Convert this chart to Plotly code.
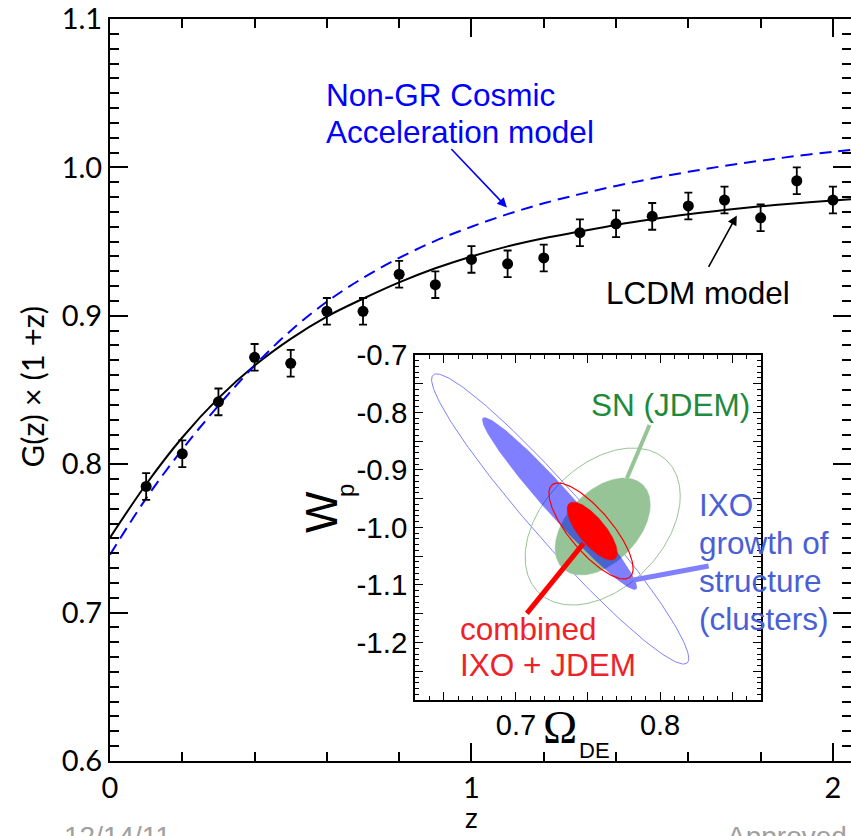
import numpy as np
import plotly.graph_objects as go

# ---------------- main panel data ----------------
z_obs = [0.1, 0.2, 0.3, 0.4, 0.5, 0.6, 0.7, 0.8, 0.9, 1.0,
         1.1, 1.2, 1.3, 1.4, 1.5, 1.6, 1.7, 1.8, 1.9, 2.0]
g_obs = [0.785, 0.807, 0.842, 0.872, 0.868, 0.903, 0.903, 0.928, 0.921, 0.938,
         0.935, 0.939, 0.956, 0.962, 0.967, 0.974, 0.978, 0.966, 0.991, 0.978]
g_err = [0.009, 0.009, 0.009, 0.009, 0.009, 0.009, 0.009, 0.009, 0.009, 0.009,
         0.009, 0.009, 0.009, 0.009, 0.009, 0.009, 0.009, 0.009, 0.009, 0.009]

z_model = [0.0, 0.1, 0.2, 0.3, 0.4, 0.5, 0.6, 0.7, 0.8, 0.9, 1.0,
           1.1, 1.2, 1.3, 1.4, 1.5, 1.6, 1.7, 1.8, 1.9, 2.0, 2.05]
lcdm = [0.7505, 0.7865, 0.818, 0.8445, 0.8665, 0.8845, 0.8995, 0.9115, 0.9225, 0.932, 0.940,
        0.9468, 0.9523, 0.9568, 0.9612, 0.965, 0.9684, 0.9713, 0.9738, 0.9759, 0.9777, 0.9785]
nongr = [0.739, 0.777, 0.810, 0.8395, 0.8665, 0.890, 0.9095, 0.9255, 0.939, 0.9505, 0.960,
         0.9685, 0.9758, 0.982, 0.9875, 0.9925, 0.997, 1.001, 1.0045, 1.0077, 1.0105, 1.0118]

x_ticks = [0, 1, 2]
y_ticks = [0.6, 0.7, 0.8, 0.9, 1.0, 1.1]

# ---------------- inset data (Omega_DE, w_p) ----------------
ell_name = ["IXO 2sig", "SN 2sig", "SN 1sig", "IXO 1sig", "comb 1sig", "comb 2sig"]
ell_cx = [0.7307, 0.7602, 0.7602, 0.7303, 0.7529, 0.7521]
ell_cy = [-0.9852, -0.9983, -0.9983, -0.9583, -1.0061, -1.0061]
ell_sx = [0.0892, 0.0538, 0.0330, 0.0537, 0.0174, 0.0292]
ell_sy = [0.2523, 0.1365, 0.0843, 0.1499, 0.0504, 0.0835]
ell_rho = [-0.961, 0.39, 0.45, -0.970, -0.75, -0.78]
ell_fill = [None, None, "rgb(150,196,150)", "rgba(0,0,255,0.5)", "rgb(255,0,0)", None]
ell_line = ["rgb(128,128,255)", "rgb(150,196,150)", "rgb(150,196,150)",
            "rgba(0,0,255,0)", "rgb(255,0,0)", "rgb(255,0,0)"]
ell_lw = [1, 1, 0.5, 0, 0.5, 1.2]

ptr_green_x = [0.7927, 0.7770]
ptr_green_y = [-0.8217, -0.9144]
ptr_blue_x = [0.8337, 0.7816]
ptr_blue_y = [-1.067, -1.0913]
ptr_red_x = [0.7076, 0.7469]
ptr_red_y = [-1.1493, -1.0275]

inset_xtick_vals = [0.65, 0.70, 0.75, 0.80, 0.85]
inset_xtick_text = ["", "0.7", "", "0.8", ""]
inset_ytick_vals = [-0.7, -0.75, -0.8, -0.85, -0.9, -0.95, -1.0, -1.05, -1.1, -1.15, -1.2, -1.25, -1.3]
inset_ytick_text = ["-0.7", "", "-0.8", "", "-0.9", "", "-1.0", "", "-1.1", "", "-1.2", "", ""]

# text labels
nongr_lines = ["Non-GR Cosmic", "Acceleration model"]
nongr_line_y = [1.0486, 1.0236]
ixo_lines = ["IXO", "growth of", "structure", "(clusters)"]
ixo_line_y = [-0.9609, -1.0270, -1.0930, -1.1591]
comb_lines = ["combined", "IXO + JDEM"]
comb_line_y = [-1.1765, -1.2391]

TICKFONT = "Lato"
TXTFONT = "Liberation Sans"
LBL = 31.5

fig = go.Figure()

# main model curves
fig.add_trace(go.Scatter(x=z_model, y=lcdm, mode="lines", line=dict(color="black", width=2, shape="spline"),
                         xaxis="x", yaxis="y", hoverinfo="skip"))
fig.add_trace(go.Scatter(x=z_model, y=nongr, mode="lines",
                         line=dict(color="#0000ff", width=2, dash="12px,7px", shape="spline"),
                         xaxis="x", yaxis="y", hoverinfo="skip"))
fig.add_trace(go.Scatter(x=z_obs, y=g_obs, mode="markers",
                         marker=dict(color="black", size=11),
                         error_y=dict(type="data", array=g_err, color="black", thickness=1.8, width=4),
                         xaxis="x", yaxis="y"))
# dummy for right-hand tick axis
fig.add_trace(go.Scatter(x=[], y=[], xaxis="x", yaxis="y3"))

# inset ellipses
t = np.linspace(0, 2 * np.pi, 240)
for i in range(len(ell_name)):
    ex = ell_cx[i] + ell_sx[i] * np.cos(t)
    ey = ell_cy[i] + ell_sy[i] * (ell_rho[i] * np.cos(t) + np.sqrt(1 - ell_rho[i] ** 2) * np.sin(t))
    kw = dict(x=ex, y=ey, mode="lines", xaxis="x2", yaxis="y2", hoverinfo="skip",
              line=dict(color=ell_line[i], width=ell_lw[i]))
    if ell_fill[i] is not None:
        kw["fill"] = "toself"
        kw["fillcolor"] = ell_fill[i]
    fig.add_trace(go.Scatter(**kw))

for px_, py_, col, w in [(ptr_green_x, ptr_green_y, "rgb(150,196,150)", 4),
                         (ptr_blue_x, ptr_blue_y, "rgb(128,128,255)", 5),
                         (ptr_red_x, ptr_red_y, "rgb(255,0,0)", 5)]:
    fig.add_trace(go.Scatter(x=px_, y=py_, mode="lines", line=dict(color=col, width=w),
                             xaxis="x2", yaxis="y2", hoverinfo="skip"))

axis_common = dict(showgrid=False, zeroline=False, showline=True, linecolor="black",
                   ticks="inside", tickcolor="black")

fig.update_layout(
    width=851, height=836,
    margin=dict(l=110, r=0, t=19, b=75),
    paper_bgcolor="white", plot_bgcolor="white",
    showlegend=False,
    xaxis=dict(**axis_common, range=[0, 2.05], tickvals=x_ticks, linewidth=2, mirror="ticks",
               ticklen=18, tickwidth=2, tickfont=dict(family=TICKFONT, size=29, color="black"),
               minor=dict(dtick=0.2, tick0=0, ticklen=9, tickwidth=2, ticks="inside", tickcolor="black"),
               anchor="y", domain=[0, 1]),
    yaxis=dict(**axis_common, range=[0.6, 1.1], tickvals=y_ticks, tickformat=".1f", linewidth=2,
               ticklen=18, tickwidth=2, tickfont=dict(family=TICKFONT, size=29, color="black"),
               minor=dict(dtick=0.01, tick0=0.6, ticklen=9, tickwidth=2, ticks="inside", tickcolor="black"),
               anchor="x", domain=[0, 1]),
    yaxis3=dict(range=[0.6, 1.1], overlaying="y", side="right", anchor="x", showline=False,
                showgrid=False, zeroline=False, ticks="inside", tickvals=y_ticks, ticklen=18, tickwidth=2,
                tickcolor="black", showticklabels=False,
                minor=dict(dtick=0.01, tick0=0.6, ticklen=9, tickwidth=2, ticks="inside", tickcolor="black")),
    xaxis2=dict(**axis_common, domain=[0.4116, 0.8785], anchor="y2", range=[0.63, 0.87],
                tickvals=inset_xtick_vals, ticktext=inset_xtick_text, linewidth=1.5, mirror="ticks",
                ticklen=8, tickwidth=1.2, tickfont=dict(family=TXTFONT, size=29, color="black"),
                ticklabelstandoff=-2,
                minor=dict(dtick=0.01, tick0=0.6, ticklen=4, tickwidth=1, ticks="inside", tickcolor="black")),
    yaxis2=dict(**axis_common, domain=[0.0822, 0.5472], anchor="x2", range=[-1.3, -0.7],
                tickvals=inset_ytick_vals, ticktext=inset_ytick_text, linewidth=1.5, mirror="ticks",
                ticklen=8, tickwidth=1.2, tickfont=dict(family=TXTFONT, size=29.5, color="black"),
                minor=dict(dtick=0.01, tick0=-1.3, ticklen=4, tickwidth=1, ticks="inside", tickcolor="black")),
)

# arrows (head position in data, tail offset in px)
blue_arrow_head = [1.098, 0.973]
blue_arrow_tail_px = [-57, -60]
black_arrow_head = [1.734, 0.9676]
black_arrow_tail_px = [-29, 53]

ann = []
ann.append(dict(x=blue_arrow_head[0], y=blue_arrow_head[1], xref="x", yref="y",
                ax=blue_arrow_tail_px[0], ay=blue_arrow_tail_px[1], showarrow=True,
                arrowhead=2, arrowsize=1.2, arrowwidth=1.6, arrowcolor="#0000ff", text=""))
ann.append(dict(x=black_arrow_head[0], y=black_arrow_head[1], xref="x", yref="y",
                ax=black_arrow_tail_px[0], ay=black_arrow_tail_px[1], showarrow=True,
                arrowhead=2, arrowsize=1.2, arrowwidth=1.6, arrowcolor="black", text=""))
for txt, yy in zip(nongr_lines, nongr_line_y):
    ann.append(dict(x=0.593, y=yy, xref="x", yref="y", xanchor="left", yanchor="middle",
                    showarrow=False, text=txt, font=dict(family=TXTFONT, size=LBL, color="#0000ff")))
ann.append(dict(x=1.366, y=0.9157, xref="x", yref="y", xanchor="left", yanchor="middle",
                showarrow=False, text="LCDM model", font=dict(family=TXTFONT, size=LBL, color="black")))
# inset labels
ann.append(dict(x=0.7505, y=-0.787, xref="x2", yref="y2", xanchor="left", yanchor="middle",
                showarrow=False, text="SN (JDEM)", font=dict(family=TXTFONT, size=LBL, color="#1e8a3c")))
for txt, yy in zip(ixo_lines, ixo_line_y):
    ann.append(dict(x=0.8255, y=yy, xref="x2", yref="y2", xanchor="left", yanchor="middle",
                    showarrow=False, text=txt, font=dict(family=TXTFONT, size=LBL, color="#4a5fd6")))
for txt, yy in zip(comb_lines, comb_line_y):
    ann.append(dict(x=0.660, y=yy, xref="x2", yref="y2", xanchor="left", yanchor="middle",
                    showarrow=False, text=txt, font=dict(family=TXTFONT, size=LBL, color="#ee2229")))
# inset axis titles (paper coords)
ann.append(dict(x=0.6073, y=0.0458, xref="paper", yref="paper", xanchor="center", yanchor="middle",
                showarrow=False, text="Ω", font=dict(family="Liberation Serif", size=46, color="black")))
ann.append(dict(x=0.6545, y=0.0135, xref="paper", yref="paper", xanchor="center", yanchor="middle",
                showarrow=False, text="DE", font=dict(family=TXTFONT, size=22, color="black")))
ann.append(dict(x=0.2861, y=0.3356, xref="paper", yref="paper", xanchor="center", yanchor="middle",
                showarrow=False, text="W", textangle=-90, font=dict(family=TXTFONT, size=44, color="black")))
ann.append(dict(x=0.3171, y=0.3652, xref="paper", yref="paper", xanchor="center", yanchor="middle",
                showarrow=False, text="p", textangle=-90, font=dict(family=TXTFONT, size=24, color="black")))
# main axis titles
ann.append(dict(x=-0.105, y=0.505, xref="paper", yref="paper", xanchor="center", yanchor="middle",
                showarrow=False, text="G(z) × (1 +z)", textangle=-90,
                font=dict(family=TICKFONT, size=31, color="black")))
ann.append(dict(x=1.0, y=-0.0755, xref="x", yref="paper", xanchor="center", yanchor="middle",
                showarrow=False, text="z", font=dict(family=TICKFONT, size=28, color="black")))
# slide footer (cut off by the page edge, as in the original slide)
ann.append(dict(x=-0.065, y=-0.078, xref="paper", yref="paper", xanchor="left", yanchor="top",
                showarrow=False, text="12/14/11", font=dict(family=TXTFONT, size=28, color="#a0a0a0")))
ann.append(dict(x=0.83, y=-0.078, xref="paper", yref="paper", xanchor="left", yanchor="top",
                showarrow=False, text="Approved", font=dict(family=TXTFONT, size=28, color="#a0a0a0")))
fig.update_layout(annotations=ann)

fig.write_html("out.html")
